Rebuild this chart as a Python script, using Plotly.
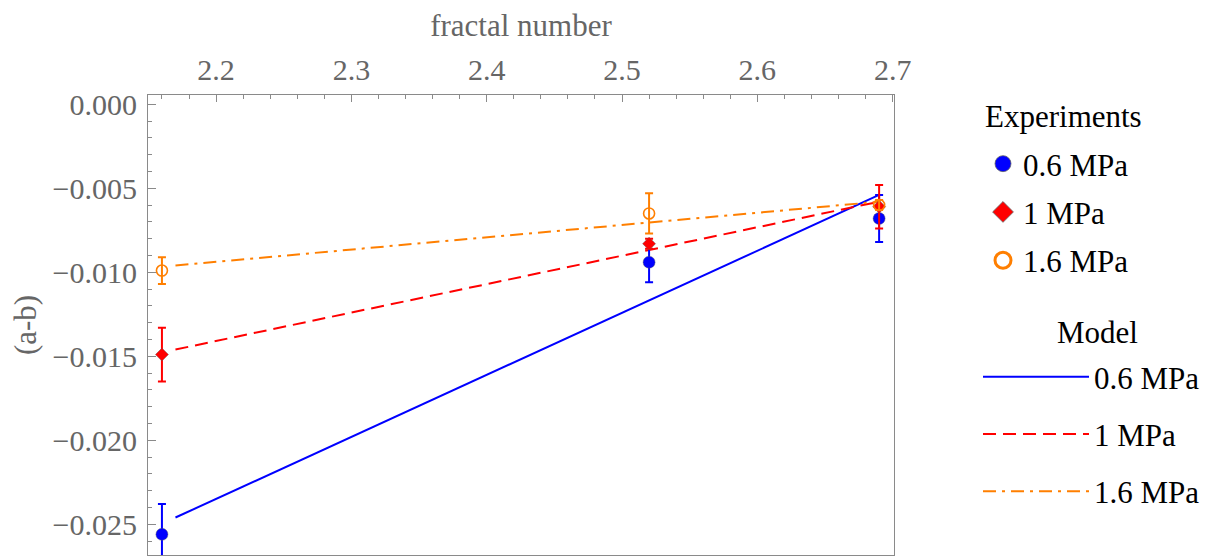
import plotly.graph_objects as go

# ---- data ----
x_exp = [2.16, 2.52, 2.69]
exp_06 = [-0.0256, -0.0094, -0.0068]
err_06 = [0.0018, 0.0012, 0.0014]
exp_1 = [-0.0149, -0.0083, -0.0061]
err_1 = [0.0016, 0.0003, 0.0013]
exp_16 = [-0.0099, -0.0065, -0.0060]
err_16 = [0.0008, 0.0012, 0.0003]

x_model = [2.17, 2.69]
model_06 = [-0.0246, -0.0054]
model_1 = [-0.0146, -0.0058]
model_16 = [-0.0096, -0.0058]

labels = ["0.6 MPa", "1 MPa", "1.6 MPa"]

BLUE = "rgb(0,0,255)"
RED = "rgb(255,0,0)"
ORANGE = "rgb(255,127,0)"
GRAY = "#666666"
FRAME = "#8a8a8a"
EDGE = "rgba(90,90,90,0.7)"
FONT = "Liberation Serif, Times New Roman, serif"

fig = go.Figure()

# model lines (legend 2)
for xs, ys, col, dash, name in [
    (x_model, model_06, BLUE, "solid", labels[0]),
    (x_model, model_1, RED, "13px,7px", labels[1]),
    (x_model, model_16, ORANGE, "13px,6px,3px,6px", labels[2]),
]:
    fig.add_trace(go.Scatter(
        x=xs, y=ys, mode="lines", name=name,
        line=dict(color=col, width=2, dash=dash),
        legend="legend2", legendgroup="m" + name,
    ))

# experiments (markers + error bars)
exp_series = [
    (exp_06, err_06, BLUE, "circle", 12, dict(color=EDGE, width=0.6), BLUE),
    (exp_1, err_1, RED, "diamond", 10, dict(color=EDGE, width=0.6), RED),
    (exp_16, err_16, ORANGE, "circle-open", 11, dict(color=ORANGE, width=1.6), ORANGE),
]
for i, (ys, errs, col, sym, size, mline, mcol) in enumerate(exp_series):
    fig.add_trace(go.Scatter(
        x=x_exp, y=ys, mode="markers", name=labels[i], showlegend=False,
        marker=dict(symbol=sym, size=size, color=mcol, line=mline),
        error_y=dict(type="data", array=errs, color=col, thickness=2, width=4),
    ))

# legend-only entries for the experiments (bigger symbols, as in the reference legend)
legend_marks = [
    ("circle", BLUE, dict(color="rgba(100,100,100,0.8)", width=1)),
    ("diamond", RED, dict(color="rgba(100,100,100,0.8)", width=1)),
    ("circle-open", ORANGE, dict(color=ORANGE, width=3)),
]
for i, (sym, col, mline) in enumerate(legend_marks):
    fig.add_trace(go.Scatter(
        x=[None], y=[None], mode="markers", name=labels[i],
        marker=dict(symbol=sym, size=16, color=col, line=mline),
        legend="legend", legendgroup="e" + str(i),
    ))

# the page body adds an 8px offset; plot area targets screen box (148,95)-(894,555)
W = 746.0
H = 460.0

fig.update_layout(
    width=1222, height=557,
    margin=dict(l=140, r=336, t=87, b=10, autoexpand=False),
    plot_bgcolor="white", paper_bgcolor="white",
    font=dict(family=FONT, size=30, color=GRAY),
    showlegend=True,
    legend=dict(
        font=dict(family=FONT, size=31, color="black"),
        x=(983 - 148) / W, xanchor="left", y=1 - (137 - 95) / H, yanchor="top",
        bgcolor="rgba(0,0,0,0)", tracegroupgap=5,
    ),
    legend2=dict(
        font=dict(family=FONT, size=31, color="black"),
        x=(978 - 148) / W, xanchor="left", y=1 - (350 - 95) / H, yanchor="top",
        bgcolor="rgba(0,0,0,0)", tracegroupgap=14, itemwidth=106,
    ),
    annotations=[
        dict(text="Experiments", xref="paper", yref="paper",
             x=(983 - 148) / W, y=1 - (117 - 95) / H, xanchor="left", yanchor="middle",
             showarrow=False, font=dict(family=FONT, size=31, color="black")),
        dict(text="Model", xref="paper", yref="paper",
             x=(1097 - 148) / W, y=1 - (332 - 95) / H, xanchor="center", yanchor="middle",
             showarrow=False, font=dict(family=FONT, size=31, color="black")),
    ],
    xaxis=dict(
        side="top", range=[2.1497, 2.701], dtick=0.1, tick0=2.2,
        title=dict(text="fractal number", font=dict(family=FONT, size=31, color=GRAY), standoff=8),
        showgrid=False, zeroline=False, automargin=False,
        showline=True, linecolor=FRAME, linewidth=1.2, mirror=True,
        ticks="inside", ticklen=7, tickwidth=1, tickcolor=FRAME,
        minor=dict(ticks="inside", ticklen=4, dtick=0.02, tick0=2.2, tickcolor=FRAME, showgrid=False),
        tickfont=dict(family=FONT, size=30, color=GRAY),
        ticklabelstandoff=2,
    ),
    yaxis=dict(
        range=[-0.02683, 0.00055], dtick=0.005, tick0=0, tickformat=".3f",
        title=dict(text="(a-b)", font=dict(family=FONT, size=31, color=GRAY), standoff=28),
        showgrid=False, zeroline=False, automargin=False,
        showline=True, linecolor=FRAME, linewidth=1.2, mirror=True,
        ticks="inside", ticklen=8, tickwidth=1, tickcolor=FRAME,
        minor=dict(ticks="inside", ticklen=4, dtick=0.001, tick0=0, tickcolor=FRAME, showgrid=False),
        tickfont=dict(family=FONT, size=30, color=GRAY),
        ticklabelstandoff=4,
    ),
)

fig.write_html("out.html")
